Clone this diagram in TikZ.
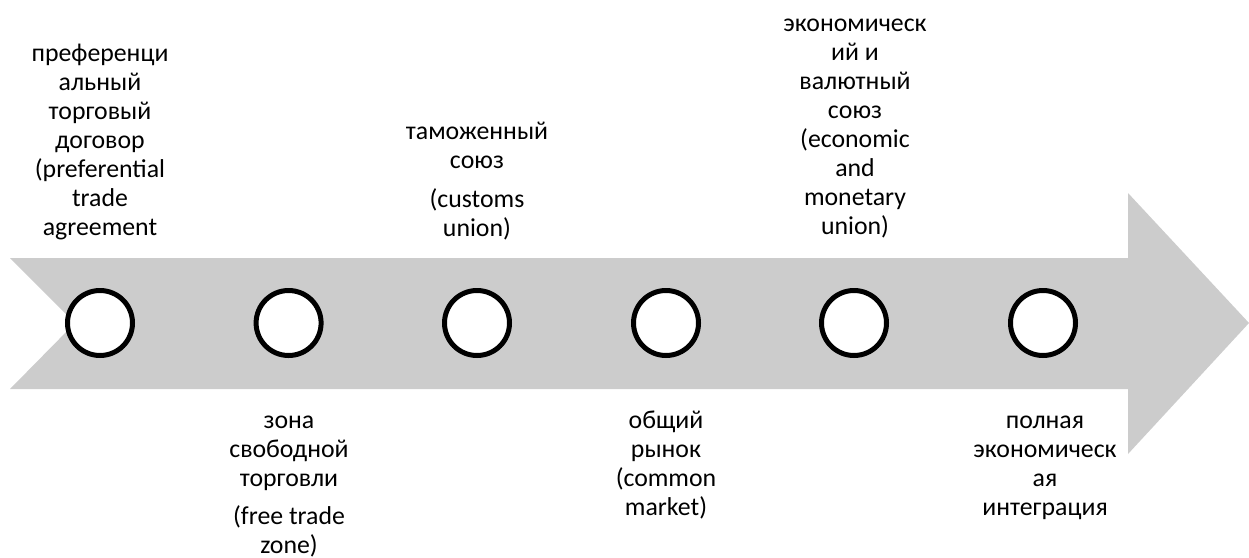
\documentclass[tikz,border=0pt]{standalone}
\usepackage{fontspec}
\setmainfont{Carlito}
\definecolor{arrowgray}{HTML}{CCCCCC}
\tikzset{
  stage/.style={circle, draw=black, line width=5pt, fill=white, minimum size=65pt, inner sep=0pt},
  lbl/.style={anchor=base, inner sep=0pt, font=\fontsize{25.8}{29}\selectfont}
}
\newcommand{\lines}[1]{{\setlength{\tabcolsep}{0pt}\begin{tabular}[t]{c}#1\end{tabular}}}
\begin{document}
\begin{tikzpicture}[x=1pt,y=-1pt]
\useasboundingbox (0,0) rectangle (1249,557);
\fill[arrowgray] (10,258) -- (1128,258) -- (1128,193) -- (1249,323) -- (1128,454) -- (1128,389) -- (10,389) -- (75,323) -- cycle;
\node[stage] (c1) at (100,323) {};
\node[stage] (c2) at (288.6,323) {};
\node[stage] (c3) at (477,323) {};
\node[stage] (c4) at (666,323) {};
\node[stage] (c5) at (854,323) {};
\node[stage] (c6) at (1043,323) {};
\node[lbl] (t1) at (100,61) {\lines{преференци\\альный\\торговый\\договор\\(preferential\\trade\\agreement}};
\node[lbl] (t2) at (289,428) {\lines{зона\\свободной\\торговли\\[9pt](free trade\\zone)}};
\node[lbl] (t3) at (477,139) {\lines{таможенный\\союз\\[10pt](customs\\union)}};
\node[lbl] (t4) at (855,31) {\lines{экономическ\\ий и\\валютный\\союз\\(economic\\and\\monetary\\union)}};
\node[lbl] (t5) at (666,428) {\lines{общий\\рынок\\(common\\market)}};
\node[lbl] (t6) at (1045,428) {\lines{полная\\экономическ\\ая\\интеграция}};
\end{tikzpicture}
\end{document}
